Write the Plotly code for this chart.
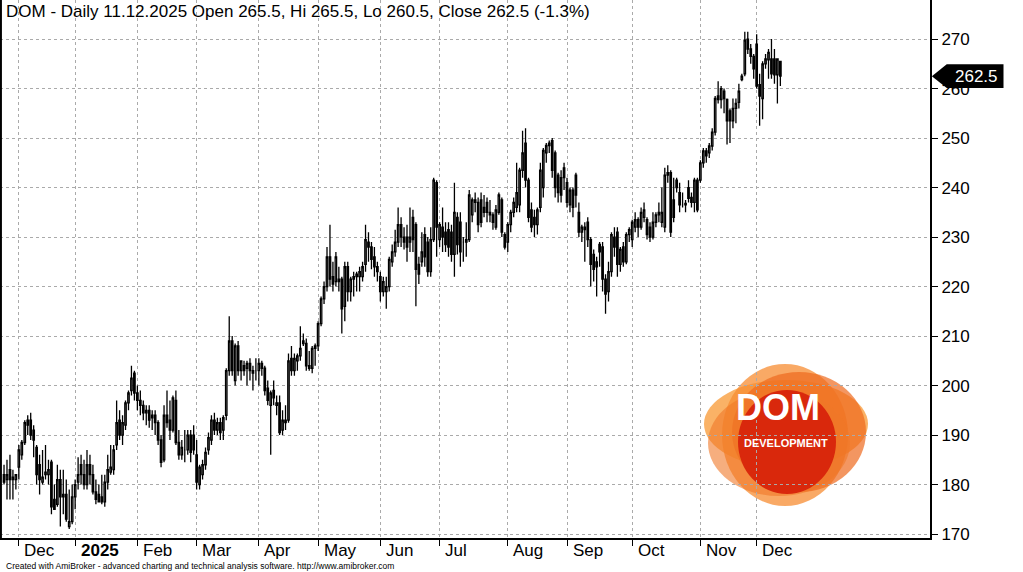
import plotly.graph_objects as go
import pandas as pd

# OHLC rows per month (open, high, low, close)
bars_nov24 = [(182,184,180,180.5),(181,185,177,182),(183,186,177,181),(181,183,177,181.5),(181,182,179,182)]
bars_dec24 = [(183.5,188,181,187),(186,189,185,188.5),(188.5,193,188,192.5),(193,194,190,192),(193,194.5,189,190),
 (191,192,185.5,189),(187.5,188,180,182),(184,186,178,181),(180.5,187,180,181.5),(182,188,181,182.5),(182,185,180,183),
 (184.5,185,174,175.5),(177,180,175,175),(176,184,175.5,181),(181,183,171.5,177.5),(178,183,174,177.5),(178,181,172.5,173),
 (171.5,179,171,172.5),(172.5,180,172,177.5)]
bars_jan25 = [(177.5,181,175,180),(180.5,185.5,179,182),(184,186,180,182),(182,185,179,180),(180,187,179,184),(184,186,180,182),
 (182,184,178,178.5),(178.5,181,176,177),(178,180,176.5,176.5),(177.5,182,176,176.5),(176.5,182,175.5,180.5),(180.5,186,179,183),
 (182.5,188,182,183.5),(183,188,182,187),(188,197,187,192.5),(193,195,189,190),(190,194,188,192.5),(192,197,191,196.5),
 (196.5,199,195,198.5),(199,204,198,201.5),(202.5,203,197,198.5)]
bars_feb25 = [(198.5,200,195,197),(197,199,194,196),(196,197,193,194.5),(194.5,196,192,195),(195,196,191.5,193),(193.5,195,191,194),
 (194,195,190,192.5),(192.5,193,188,189),(189,190,183.5,184.5),(185,196,184.5,194),(194,199,191.5,192.5),(193,197,189,191),
 (191,198,190.5,197.5),(197,199,188,188.5),(188.5,191,185,186),(186,189,185,187.5),(187,191,184.5,187),(187,191,186,190),
 (190,191,184.5,186.5),(190,192,186,187)]
bars_mar25 = [(186,189,179,180.5),(180,184,179,183.5),(182,185,181,184),(184,187.5,183,186.5),(187,190.5,186,189.5),(189,194,188,193),
 (193,194.5,190,191),(191,193.5,190,192.5),(192.5,193.5,189,190.5),(191,194,189,193.5),(194,203.5,193,203),(203,214,202,209),
 (209,210,202,203),(201,208.5,200,208),(208,209,202,203),(203,205,201,205),(204,205,202,203),(203.5,205,200,204.5),
 (204.5,205.5,201,203),(203,204,199,202.5),(203,205.5,201,203)]
bars_apr25 = [(203,205.5,200,204.5),(204.5,205,202,203.5),(203.5,204,198,199),(199.5,201,196,197),(196,199,186,198.5),(199,201,196,197.5),
 (196,198,194,196.5),(196.5,198,190,190.5),(191,195,190,193),(193,196,191,192.5),(193,206.5,192.5,205),(205.5,208,202,203),
 (203,206.5,202,205.5),(205,206.5,203,206),(206,212,205,207.5),(209,210.5,208,208.5),(208.5,209.5,203,204),(204,207,203,203.5),
 (203.5,208,202.5,207.5),(207.5,208.5,204,208)]
bars_may25 = [(208,213,207,212.5),(212.5,218,212,217.5),(217.5,221,216.5,220),(220,228,219,226),(226,232.5,220,221.5),(222,225,219,220.5),
 (221,227,220,226),(221.5,224,219,221),(221.5,222,210.5,215.5),(216,225,213,224),(224,225,217,219),(219,222,217,221.5),
 (221.5,223,218,222),(222,223,219,222.5),(222,224,219,223),(222,225,221,224),(224.5,232.5,223,229.5),(229,231,225,228),
 (228,229,223.5,225.5),(226,228,222,224),(224,225,221,223)]
bars_jun25 = [(222,223,217,219),(219,222,218,221),(219,222,215.5,220),(220,226,219,225.5),(225,228.5,224,227),(227,231.5,226,229),
 (229,236,228,232.5),(232.5,234,228,230),(230,232,227.5,229),(230,232.5,225,228),(229,236,227,230),(234,235.5,227,229.5),
 (232.5,233,216,223.5),(224.5,226,220.5,222.5),(225,231,224,227),(230.5,232,224,226),(229,230,222,223),(223,232,222,229.5),
 (229.5,242,229,241.5),(241,241.5,226,232)]
bars_jul25 = [(229.5,233,228,232.5),(232,236,227,230),(231,233,227,228.5),(231.5,233,226,228),(231,232.5,225,226.5),(226.5,241,222,235),
 (234,235,226.5,228.5),(233,235,224,227),(229,230,225,229),(229,233,226,229.5),(229.5,239.5,229,238.5),(234.5,238,233,237.5),
 (237,239,235,237.5),(237,238,231,232.5),(237.5,239,232,233),(236,238.5,234,235),(237,238,233,235),(235,237.5,233,234.5),
 (234.5,235,231.5,233),(232,236.5,231.5,235.5),(235,239,234.5,238.5),(237.5,238,230,231),(230.5,231,227.5,228)]
bars_aug25 = [(229,233,227,232.5),(232.5,235.5,231,235),(235,238,234,237),(236,245,235,239),(236.5,244,235,243.5),(243.5,251.5,242,247),
 (249,252,240,241.5),(241.5,242,233,234),(235.5,237,231,232),(234,235.5,230,232.5),(232.5,236,230.5,235.5),(236,245,235,243.5),
 (240,248,238,247.5),(247,249,245,248.5),(248.5,249.5,247,249),(249.5,250,242,243.5),(247,247.5,238,240),(242.5,243,237,239),
 (242,243.5,237,238.5),(244,245,239.5,242)]
bars_sep25 = [(241,242,236,237),(236.5,240,235,239.5),(239.5,240,234,236),(242.5,243,236,238.5),(235,237,230,231),(231,232.5,229,232),
 (232,233,225,231.5),(233,234,228,229.5),(229.5,230,220,224.5),(226.5,227.5,221,223.5),(225,226,218,224),(228.5,229,224,227),
 (228,229,219,221.5),(221.5,222.5,214.5,218.5),(219,225,217,223),(223,231,222,230.5),(230,232,226,228),(231,232,222,224.5),
 (224.5,228,223,227.5),(228,229,224,225),(225,231,224.5,230.5),(230.5,232,229,231.5)]
bars_oct25 = [(229.5,233.5,228,233),(232,235,231,233.5),(233.5,234,230,232),(232,236,231.5,235),(234,237,233,235.5),(233.5,234,229.5,230.5),
 (232,233,229,230),(230,235,229.5,233),(233,235,232,234.5),(234.5,237,233,235),(233,240,232,235),(232,244,231,242.5),
 (242.5,244.5,241,243),(243,243.5,230,231),(237.5,242,233,234),(241.5,242,239,240),(239,241,235,236.5),(236.5,239,236,236.5),
 (236.5,237.5,235,236.8),(240,241.5,237,237.8),(238,239,236,237),(237,242,235,241.5),(241.5,242,235,235.5)]
bars_nov25 = [(241.5,245.5,241,245),(245,248,244,247.4),(247.4,248,245,246.4),(247,249,246,248.4),(248.4,252,247.5,251.2),
 (251.2,258.5,250.5,258),(258.5,261.5,257,257.8),(257.8,260.5,256,260),(259.5,260,255,258),(257.8,258,248.7,253.5),
 (255.5,256,249,253.5),(253.5,258,252,256),(256,258,253,257),(257.2,261,256,259.5),(261.8,263,261.5,262.5),
 (263,271.5,262.5,269.8),(270,271.5,267,268),(268,269,265,266.5),(266.5,267,262,264)]
bars_dec25 = [(269,271,260,260.5),(260.8,263,252.5,258.5),(258,265.5,253.8,265),(265,267,264,266),(265.8,268,262,267.3),
 (266,270,262,263),(266,268,261,262.8),(262.8,266,257,266),(265.5,265.5,260.5,262.5)]

month_labels = ["Dec", "2025", "Feb", "Mar", "Apr", "May", "Jun", "Jul", "Aug", "Sep", "Oct", "Nov", "Dec"]
y_ticks = [170, 180, 190, 200, 210, 220, 230, 240, 250, 260, 270]
title_text = "DOM - Daily 11.12.2025 Open 265.5, Hi 265.5, Lo 260.5, Close 262.5 (-1.3%)"
last_close = 262.5

months = [bars_nov24, bars_dec24, bars_jan25, bars_feb25, bars_mar25, bars_apr25, bars_may25, bars_jun25,
          bars_jul25, bars_aug25, bars_sep25, bars_oct25, bars_nov25, bars_dec25]
rows = [r for m in months for r in m]
df = pd.DataFrame(rows, columns=["o", "h", "l", "c"])
x = list(range(len(df)))
starts = []
n = 0
for m in months:
    starts.append(n)
    n += len(m)
month_starts = starts[1:]

fig = go.Figure(go.Candlestick(
    x=x, open=df.o, high=df.h, low=df.l, close=df.c,
    increasing=dict(line=dict(color="black", width=1.3), fillcolor="white"),
    decreasing=dict(line=dict(color="black", width=1.3), fillcolor="black"),
    whiskerwidth=0, showlegend=False, hoverinfo="skip"))

def px(xp): return xp / 930
def py(yp): return (538 - yp) / 538
logo = [((704, 380, 868, 468), "rgba(250,170,85,0.9)"),
        ((722, 364, 848, 506), "rgba(247,140,50,0.75)"),
        ((732, 372, 866, 492), "rgba(238,105,30,0.7)"),
        ((708, 390, 850, 496), "rgba(240,120,40,0.6)"),
        ((738, 390, 836, 494), "#D9280C")]
shapes = []
for (x0, y0, x1, y1), col in logo:
    shapes.append(dict(type="circle", xref="paper", yref="paper", x0=px(x0), x1=px(x1),
                       y0=py(y1), y1=py(y0), fillcolor=col, line=dict(width=0), layer="below"))
shapes.append(dict(type="line", xref="paper", yref="paper", x0=0.001, x1=0.001, y0=0, y1=1,
                   line=dict(color="black", width=2)))
h = 2.4
shapes.append(dict(type="path", xref="paper", yref="y",
    path=f"M 1.002 {last_close} L 1.018 {last_close+h} L 1.079 {last_close+h} L 1.079 {last_close-h} L 1.018 {last_close-h} Z",
    fillcolor="black", line=dict(width=0)))

ann = [dict(text=title_text, xref="paper", yref="paper", x=0.004, y=1.0, xanchor="left", yanchor="top",
            showarrow=False, font=dict(size=17, color="black")),
       dict(text="Created with AmiBroker - advanced charting and technical analysis software. http://www.amibroker.com",
            xref="paper", yref="paper", x=0.004, y=0, yshift=-21, xanchor="left", yanchor="top",
            showarrow=False, font=dict(size=8.5, color="black")),
       dict(text=f"{last_close}", xref="paper", yref="y", x=1.05, y=last_close, showarrow=False,
            xanchor="center", font=dict(size=17, color="white")),
       dict(text="<b>DOM</b>", xref="paper", yref="paper", x=px(778), y=py(430), showarrow=False,
            xanchor="center", font=dict(size=36, color="white")),
       dict(text="<b>DEVELOPMENT</b>", xref="paper", yref="paper", x=px(786), y=py(451), showarrow=False,
            xanchor="center", font=dict(size=11, color="white"))]
for s, lab in zip(month_starts, month_labels):
    ann.append(dict(text=f"<b>{lab}</b>" if lab == "2025" else lab, x=s + 1.2, xref="x", y=0, yref="paper",
                    xanchor="left", yanchor="top", yshift=-1, showarrow=False, font=dict(size=17, color="black")))

fig.update_layout(
    width=1023, height=572, margin=dict(l=0, r=93, t=0, b=34, autoexpand=False),
    paper_bgcolor="white", plot_bgcolor="white",
    font=dict(family="Liberation Sans, Arial, sans-serif", color="black"),
    shapes=shapes, annotations=ann,
    xaxis=dict(range=[-1.36, 312.5], tickvals=month_starts, ticktext=[""] * len(month_starts),
               showgrid=True, gridcolor="#aaa", griddash="dot", gridwidth=1, automargin=False,
               showline=True, linecolor="black", linewidth=2, ticks="outside", ticklen=6,
               tickcolor="black", rangeslider=dict(visible=False), zeroline=False),
    yaxis=dict(range=[169.2, 277.9], side="right", tickvals=y_ticks, showgrid=True, gridcolor="#aaa",
               griddash="dot", showline=True, linecolor="black", linewidth=2, ticks="outside", automargin=False,
               ticklen=6, tickcolor="black", tickfont=dict(size=17), zeroline=False),
)
fig.write_html("out.html", config={"displayModeBar": False}, post_script="document.body.style.margin='0';")
